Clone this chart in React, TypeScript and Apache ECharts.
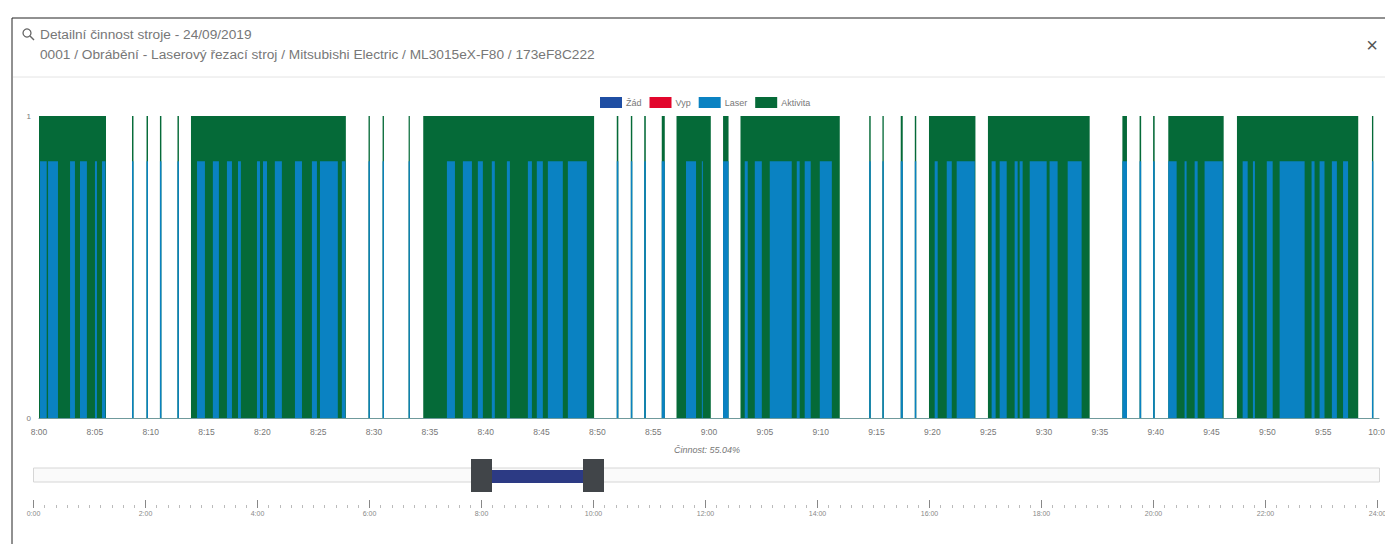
import React, { useEffect, useRef } from "react";
import * as echarts from "echarts";

// All times are minutes after 8:00 on the main chart
const activityStarts = [0, 8.33, 9.63, 10.83, 12.4, 13.61, 29.51, 30.77, 33.1, 34.41, 51.74, 53.0, 54.2, 55.77, 57.09, 61.26, 62.82, 74.35, 75.53, 77.17, 78.43, 79.7, 84.98, 97.02, 98.56, 99.77, 101.13, 107.28, 119.37];
const activityEnds = [6.0, 8.46, 9.76, 10.96, 12.53, 27.48, 29.63, 30.89, 33.21, 49.71, 51.88, 53.13, 54.34, 56.04, 60.16, 61.75, 71.71, 74.48, 75.65, 77.35, 78.56, 83.86, 94.09, 97.43, 98.7, 99.91, 106.09, 118.14, 119.49];
const laserStarts = [0.09, 0.81, 2.78, 3.67, 5.01, 5.64, 8.33, 9.63, 10.83, 12.4, 14.15, 15.57, 16.83, 17.82, 19.52, 20.06, 21.12, 22.92, 24.44, 25.16, 27.12, 29.51, 30.77, 33.1, 36.53, 37.96, 39.3, 40.55, 41.9, 43.78, 44.58, 45.57, 47.36, 51.74, 53.0, 54.2, 55.77, 57.94, 59.36, 61.26, 63.2, 64.1, 65.44, 67.86, 68.57, 69.92, 74.35, 75.53, 77.17, 78.43, 80.21, 81.29, 82.18, 85.31, 86.03, 87.37, 87.82, 88.72, 90.5, 92.12, 97.02, 98.56, 99.77, 101.13, 102.59, 103.49, 104.38, 107.79, 108.71, 109.95, 111.1, 113.96, 114.68, 115.78, 116.78, 119.37];
const laserEnds = [0.69, 1.7, 3.22, 4.29, 5.19, 5.95, 8.46, 9.76, 10.96, 12.53, 14.86, 16.11, 17.28, 18.08, 19.79, 20.42, 21.75, 23.55, 24.89, 26.76, 27.44, 29.63, 30.89, 33.21, 37.25, 38.77, 39.75, 40.82, 42.17, 44.14, 45.12, 46.91, 49.06, 51.88, 53.13, 54.34, 56.04, 58.84, 59.45, 61.75, 63.47, 64.73, 67.41, 68.12, 69.11, 71.0, 74.48, 75.65, 77.35, 78.56, 80.48, 81.74, 83.8, 85.67, 86.66, 87.64, 88.09, 90.24, 91.22, 93.37, 97.43, 98.7, 99.91, 101.88, 102.77, 103.76, 106.0, 108.24, 108.89, 110.48, 113.34, 114.23, 115.12, 116.23, 117.23, 119.49];
const activityLevel = 1;
const laserLevel = 0.85;
const seriesNames = ["Žád", "Vyp", "Laser", "Aktivita"];
const seriesColors = ["#1f4ea3", "#e2062c", "#0a82c2", "#056a38"];
const selectedRange = [480, 600]; // minutes of the day
const dayRange = [0, 1440];
const titleLine1 = "Detailní činnost stroje - 24/09/2019";
const titleLine2 = "0001 / Obrábění - Laserový řezací stroj / Mitsubishi Electric / ML3015eX-F80 / 173eF8C222";
const footerText = "Činnost: 55.04%";

const FONT = "'Liberation Sans', Arial, sans-serif";
const hm = (t: number) => `${Math.floor(t / 60)}:${String(t % 60).padStart(2, "0")}`;

const barsRender = (color: string) => (_: any, api: any) => {
  const a = api.coord([api.value(0), api.value(2)]);
  const b = api.coord([api.value(1), 0]);
  return {
    type: "rect",
    shape: { x: a[0], y: a[1], width: Math.max(b[0] - a[0], 1), height: b[1] - a[1] },
    style: { fill: color },
  };
};

export default function App() {
  const ref = useRef<HTMLDivElement>(null);
  useEffect(() => {
    document.body.style.margin = "0";
    const chart = echarts.init(ref.current!, undefined, { renderer: "svg" });
    const activity = activityStarts.map((s, i) => [480 + s, 480 + activityEnds[i], activityLevel]);
    const laser = laserStarts.map((s, i) => [480 + s, 480 + laserEnds[i], laserLevel]);
    const option: any = {
      animation: false,
      backgroundColor: "#ffffff",
      textStyle: { fontFamily: FONT },
      legend: {
        top: 92,
        left: 595,
        itemWidth: 22,
        itemHeight: 11,
        itemGap: 8,
        icon: "rect",
        textStyle: { fontSize: 9, color: "#777", padding: [0, 0, 0, -1] },
        data: seriesNames,
        selectedMode: false,
      },
      grid: [
        { left: 39, top: 116, width: 1340, height: 302, outerBoundsMode: "none" },
        { left: 33.5, top: 459, width: 1344, height: 49, outerBoundsMode: "none" },
      ],
      xAxis: [
        {
          type: "value", gridIndex: 0, min: 480, max: 600, interval: 5,
          splitLine: { show: false },
          axisTick: { show: false },
          axisLine: { show: true, onZero: false, lineStyle: { color: "#6f9a9c", width: 1 } },
          axisLabel: { fontSize: 8.5, color: "#777", margin: 9, formatter: hm, hideOverlap: false },
        },
        {
          type: "value", gridIndex: 1, min: dayRange[0], max: dayRange[1], interval: 120,
          splitLine: { show: false },
          minorTick: { show: true, splitNumber: 10, length: 3, lineStyle: { color: "#bbb" } },
          axisTick: { show: true, inside: true, length: 8, lineStyle: { color: "#888" } },
          axisLine: { show: false, onZero: false },
          axisLabel: { fontSize: 7, color: "#888", margin: 2, formatter: hm, hideOverlap: false },
        },
      ],
      yAxis: [
        {
          type: "value", gridIndex: 0, min: 0, max: 1, interval: 1,
          splitLine: { show: false },
          axisTick: { show: false },
          axisLine: { show: false },
          axisLabel: { fontSize: 8, color: "#777", margin: 8 },
        },
        { type: "value", gridIndex: 1, min: 0, max: 1, show: false },
      ],
      series: [
        { name: "Žád", type: "custom", xAxisIndex: 0, yAxisIndex: 0, itemStyle: { color: seriesColors[0] }, renderItem: barsRender(seriesColors[0]), data: [], encode: { x: [0, 1], y: 2 } },
        { name: "Vyp", type: "custom", xAxisIndex: 0, yAxisIndex: 0, itemStyle: { color: seriesColors[1] }, renderItem: barsRender(seriesColors[1]), data: [], encode: { x: [0, 1], y: 2 } },
        { name: "Aktivita", type: "custom", xAxisIndex: 0, yAxisIndex: 0, z: 2, clip: false, silent: true, itemStyle: { color: seriesColors[3] }, renderItem: barsRender(seriesColors[3]), data: activity, encode: { x: [0, 1], y: 2 } },
        { name: "Laser", type: "custom", xAxisIndex: 0, yAxisIndex: 0, z: 3, clip: false, silent: true, itemStyle: { color: seriesColors[2] }, renderItem: barsRender(seriesColors[2]), data: laser, encode: { x: [0, 1], y: 2 } },
        {
          type: "custom", xAxisIndex: 1, yAxisIndex: 1, silent: true, clip: false, z: 2,
          data: [[dayRange[0], dayRange[1]]], encode: { x: [0, 1] },
          renderItem: (_: any, api: any) => {
            const a = api.coord([api.value(0), 0]);
            const b = api.coord([api.value(1), 0]);
            return { type: "rect", shape: { x: a[0], y: 468, width: b[0] - a[0] + 2, height: 14 }, style: { fill: "#fafafa", stroke: "#d6d6d6", lineWidth: 1 } };
          },
        },
        {
          type: "custom", xAxisIndex: 1, yAxisIndex: 1, silent: true, clip: false, z: 3,
          data: [selectedRange], encode: { x: [0, 1] },
          renderItem: (_: any, api: any) => {
            const a = api.coord([api.value(0), 0])[0];
            const b = api.coord([api.value(1), 0])[0];
            const h = 21;
            return {
              type: "group",
              children: [
                { type: "rect", shape: { x: a, y: 470, width: b - a, height: 13 }, style: { fill: "#2c3a84" } },
                { type: "rect", shape: { x: a - h / 2, y: 459, width: h, height: 33 }, style: { fill: "#414549" } },
                { type: "rect", shape: { x: b - h / 2, y: 459, width: h, height: 33 }, style: { fill: "#414549" } },
              ],
            };
          },
        },
      ],
      graphic: [
        { type: "rect", silent: true, shape: { x: 12, y: 18, width: 1400, height: 540 }, style: { fill: "none", stroke: "#222", lineWidth: 1 } },
        { type: "line", silent: true, shape: { x1: 13, y1: 77, x2: 1385, y2: 77 }, style: { stroke: "#e4e4e4", lineWidth: 1 } },
        { type: "circle", silent: true, shape: { cx: 27, cy: 33, r: 4 }, style: { fill: "none", stroke: "#666", lineWidth: 1.3 } },
        { type: "line", silent: true, shape: { x1: 30, y1: 36, x2: 34, y2: 40 }, style: { stroke: "#666", lineWidth: 1.5 } },
        { type: "text", x: 40, y: 34, silent: true, style: { text: titleLine1, font: `13.7px ${FONT}`, fill: "#777", verticalAlign: "middle" } },
        { type: "text", x: 40, y: 54, silent: true, style: { text: titleLine2, font: `13.7px ${FONT}`, fill: "#777", verticalAlign: "middle" } },
        { type: "text", x: 1372, y: 45, silent: true, style: { text: "×", font: `20px ${FONT}`, fill: "#555", align: "center", verticalAlign: "middle" } },
        { type: "text", x: 707, y: 450, silent: true, style: { text: footerText, font: `italic 9px ${FONT}`, fill: "#777", align: "center", verticalAlign: "middle" } },
      ],
    };
    chart.setOption(option);
    return () => chart.dispose();
  }, []);
  return <div ref={ref} style={{ position: "absolute", left: 0, top: 0, width: 1385, height: 544, overflow: "hidden" }} />;
}
